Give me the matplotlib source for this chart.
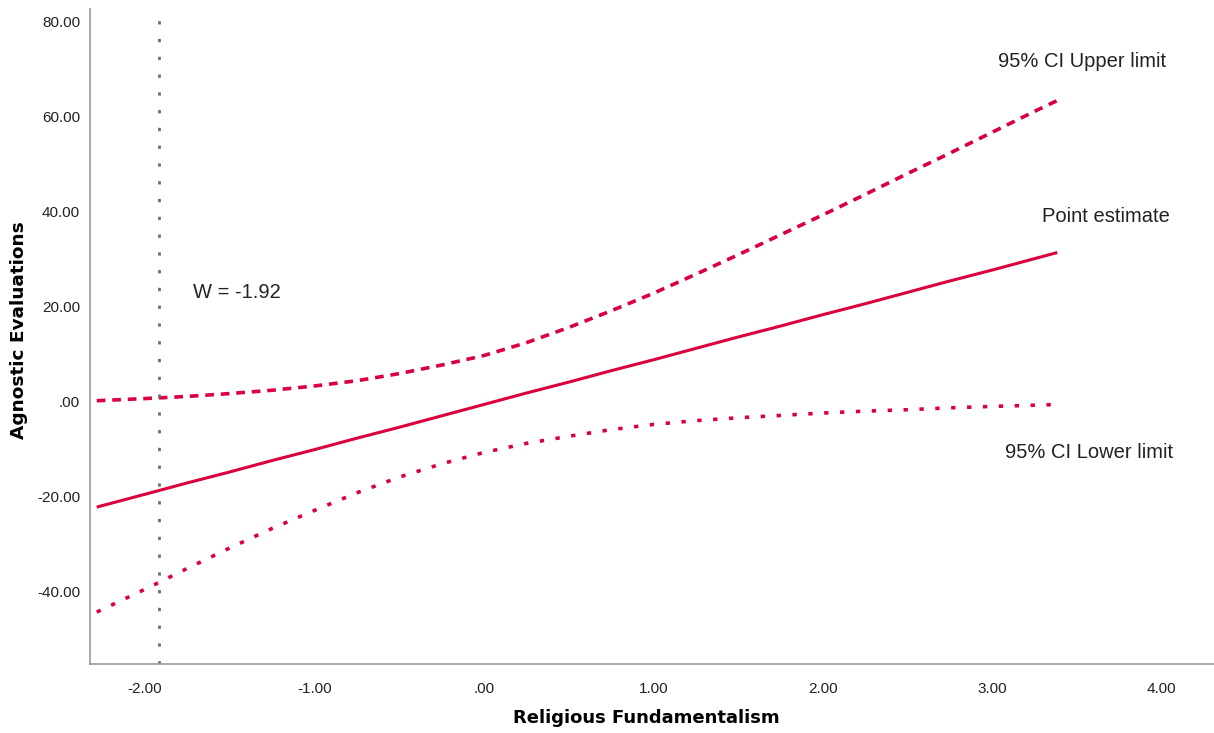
"""Johnson-Neyman plot: conditional effect of Religious Fundamentalism."""

import matplotlib
matplotlib.use("Agg")
import matplotlib.pyplot as plt

# moderator values and the conditional effect
w_vals = [-2.285, -2.0, -1.75, -1.5, -1.25, -1.0, -0.75, -0.5, -0.25, 0.0, 0.25, 0.5,
          0.75, 1.0, 1.25, 1.5, 1.75, 2.0, 2.25, 2.5, 2.75, 3.0, 3.25, 3.385]
estimate = [-22.3, -19.6, -17.2, -14.9, -12.5, -10.2, -7.8, -5.5, -3.1, -0.7, 1.7, 4.0,
            6.4, 8.7, 11.1, 13.5, 15.8, 18.2, 20.5, 22.9, 25.3, 27.6, 30.0, 31.3]
ci_upper = [0.1, 0.55, 1.0, 1.6, 2.3, 3.2, 4.3, 5.8, 7.6, 9.6, 12.3, 15.5,
            19.0, 22.7, 26.7, 30.8, 35.0, 39.2, 43.5, 47.9, 52.2, 56.6, 61.0, 63.3]
ci_lower = [-44.4, -39.6, -35.2, -30.9, -26.8, -23.0, -19.3, -16.0, -13.2, -10.8, -8.9, -7.4,
            -6.0, -4.9, -4.1, -3.5, -3.0, -2.5, -2.1, -1.8, -1.4, -1.1, -0.85, -0.7]

jn_point = -1.92
x_ticks  = [-2, -1, 0, 1, 2, 3, 4]
y_ticks  = [-40, -20, 0, 20, 40, 60, 80]

RED  = "#D9003D"
GREY = "#6E6E6E"
TEXT = "#222222"

plt.rcParams["font.family"] = ["Liberation Sans", "DejaVu Sans"]


def fmt(v):
    # SPSS style: .00 for zero, two decimals otherwise
    return ".00" if v == 0 else f"{v:.2f}"


fig = plt.figure(figsize=(12.14, 7.33), dpi=100)
ax = fig.add_axes([0.0741, 0.0937, 0.9259, 0.8936])

ax.plot(w_vals, estimate, color=RED, lw=2.2, solid_capstyle="butt")
ax.plot(w_vals, ci_upper, color=RED, lw=2.6, dashes=(2.4, 1.9))
ax.plot(w_vals, ci_lower, color=RED, lw=2.6, dashes=(1.2, 3.2))
ax.axvline(jn_point, ymax=0.99, color=GREY, lw=2.0, dashes=(1.2, 5.2))

ax.set_xlim(-2.325, 4.31)
ax.set_ylim(-55.4, 82.5)
ax.set_xticks(x_ticks)
ax.set_xticklabels([fmt(v) for v in x_ticks])
ax.set_yticks(y_ticks)
ax.set_yticklabels([fmt(v) for v in y_ticks])
ax.tick_params(length=0, labelsize=11, labelcolor=TEXT)
ax.tick_params(axis="x", pad=13)
ax.tick_params(axis="y", pad=7)

for side in ("top", "right"):
    ax.spines[side].set_visible(False)
for side in ("left", "bottom"):
    ax.spines[side].set_color("#999999")
    ax.spines[side].set_linewidth(1.2)

ax.set_xlabel("Religious Fundamentalism", fontsize=13, fontweight="bold",
              family="DejaVu Sans", va="center")
ax.xaxis.set_label_coords(0.495, -0.082)
ax.set_ylabel("Agnostic Evaluations", fontsize=13.3, fontweight="bold",
              family="DejaVu Sans", va="center")
ax.yaxis.set_label_coords(-0.063, 0.51)

# line labels
ax.text(3.53, 71.6, "95% CI Upper limit", fontsize=14.5, ha="center", va="center", color=TEXT)
ax.text(3.67, 38.8, "Point estimate", fontsize=14.5, ha="center", va="center", color=TEXT)
ax.text(3.57, -10.9, "95% CI Lower limit", fontsize=14.5, ha="center", va="center", color=TEXT)
ax.text(-1.717, 22.9, f"W = {jn_point:.2f}", fontsize=14.5, ha="left", va="center", color=TEXT)

fig.savefig("out.png", dpi=100)
